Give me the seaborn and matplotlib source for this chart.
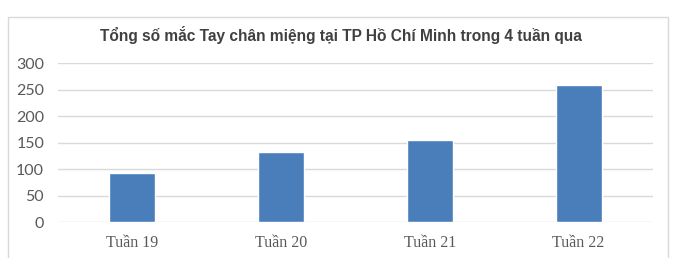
import matplotlib
matplotlib.use("Agg")
import matplotlib.pyplot as plt
import seaborn as sns
import pandas as pd
from matplotlib.patches import Rectangle

# Values
weeks = ["Tuần 19", "Tuần 20", "Tuần 21", "Tuần 22"]
cases = [93, 133, 156, 260]
y_ticks = [0, 50, 100, 150, 200, 250, 300]

BAR_COLOR = "#4a7ebb"
GRID_COLOR = "#d9d9d9"
TEXT_COLOR = "#595959"

sns.set_theme(style="white")
plt.rcParams["font.family"] = ["Liberation Sans", "DejaVu Sans"]

df = pd.DataFrame({"week": weeks, "cases": cases})

fig = plt.figure(figsize=(6.8, 2.58), dpi=100)
ax = fig.add_axes([58 / 680, (258 - 222.3) / 258, 595 / 680, 159 / 258])

sns.barplot(data=df, x="week", y="cases", color=BAR_COLOR, width=0.31,
            saturation=1, ax=ax, zorder=3)

ax.set_xlim(-0.5, 3.5)
ax.set_ylim(0, 300)
ax.set_yticks(y_ticks)
ax.yaxis.grid(True, color=GRID_COLOR, linewidth=1.0, zorder=0)
ax.set_axisbelow(True)
for s in ax.spines.values():
    s.set_visible(False)
ax.set_xlabel("")
ax.set_ylabel("")
ax.tick_params(axis="both", length=0)
ax.tick_params(axis="y", pad=10)
ax.tick_params(axis="x", pad=9)
for lab in ax.get_yticklabels():
    lab.set_fontfamily(["Lato", "DejaVu Sans"])
    lab.set_fontsize(11.5)
    lab.set_color(TEXT_COLOR)
for lab in ax.get_xticklabels():
    lab.set_fontfamily(["Liberation Serif", "DejaVu Serif"])
    lab.set_fontsize(11.5)
    lab.set_color(TEXT_COLOR)

# chart frame
fig.patches.append(Rectangle((8 / 680, -0.02), 660 / 680, (258 - 17) / 258 + 0.02,
                             transform=fig.transFigure, fill=False,
                             edgecolor="#d9d9d9", linewidth=1.0))

fig.text(341 / 680, 1 - 35 / 258,
         "Tổng số mắc Tay chân miệng tại TP Hồ Chí Minh trong 4 tuần qua",
         ha="center", va="center", fontsize=11.2, fontweight="bold",
         color="#404040", family=["Liberation Sans Narrow", "Liberation Sans", "DejaVu Sans"])

fig.savefig("out.png", dpi=100)
